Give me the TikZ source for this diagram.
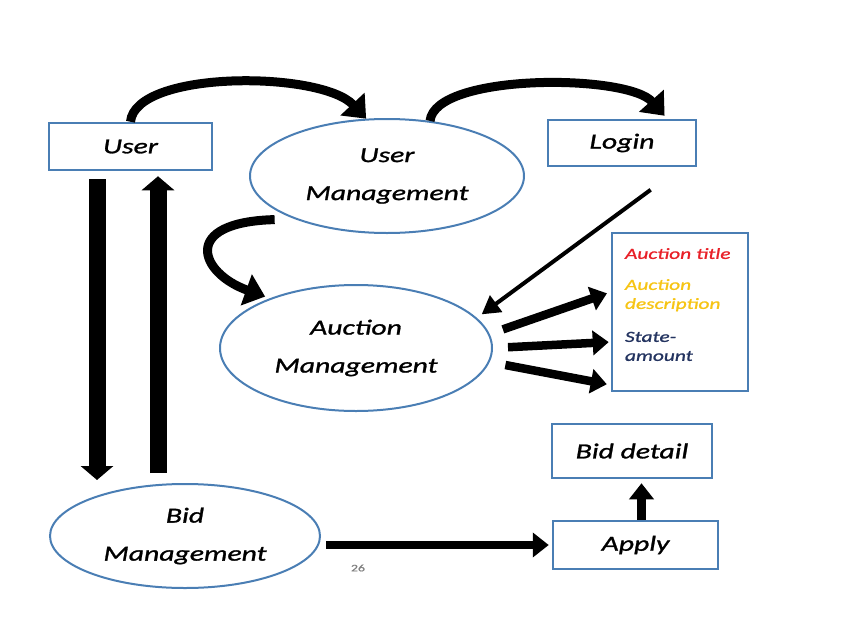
\documentclass[tikz,border=0pt]{standalone}
\usepackage{fontspec}
\setmainfont[FakeStretch=1.38 , FakeBold=1.2]{Carlito}
\usepackage{tikz}
\usetikzlibrary{shapes.geometric , arrows.meta}
\definecolor{boxblue}{RGB}{74,126,180}
\definecolor{titlered}{RGB}{232,32,40}
\definecolor{descyellow}{RGB}{246,196,20}
\definecolor{statenavy}{RGB}{36,52,96}

\begin{document}
\begin{tikzpicture}[x = 1pt , y = -1pt ,
    rect/.style = {draw = boxblue , line width = 2.5pt , inner sep = 0pt , font = \fontsize{21.5}{38}\selectfont\itshape},
    oval/.style = {ellipse , draw = boxblue , line width = 2pt , inner sep = 0pt , align = center , font = \fontsize{21.5}{38}\selectfont\itshape},
    fat/.style = {line width = 17pt , -{Triangle[width = 32pt , length = 14pt]}},
    bent/.style = {line width = 9pt , -{Triangle[width = 32pt , length = 20pt]}},
    mid/.style = {line width = 8.5pt , -{Triangle[width = 24pt , length = 16pt]}},
    slim/.style = {line width = 4pt , -{Triangle[width = 20pt , length = 18pt]}}]
    \useasboundingbox (0,0) rectangle (857,624);

    \node[rect , minimum width = 163pt , minimum height = 47pt] (user) at (130.5,146.5) {User};
    \node[oval , minimum width = 274pt , minimum height = 114pt] (um) at (387,176) {User\\Management};
    \node[rect , minimum width = 148pt , minimum height = 46pt] (login) at (622,143) {Login};
    \node[oval , minimum width = 272pt , minimum height = 126pt] (am) at (356,348) {Auction\\Management};
    \node[rect , minimum width = 136pt , minimum height = 158pt , align = left , text width = 110pt ,
          font = \fontsize{15.5}{19}\selectfont\itshape] (info) at (680,312)
          {\color{titlered}Auction title\\[12pt]\color{descyellow}Auction\\description\\[14pt]\color{statenavy}State-\\amount\\[-4pt]\mbox{}};
    \node[rect , minimum width = 160pt , minimum height = 54pt] (detail) at (632,451) {Bid detail};
    \node[rect , minimum width = 165pt , minimum height = 48pt] (apply) at (635.5,545) {Apply};
    \node[oval , minimum width = 270pt , minimum height = 104pt] (bm) at (185,536) {Bid\\Management};
    \node[text = gray , font = \fontsize{10}{12}\selectfont] (page) at (358,568) {26}; % page number

    % curved arrows on top
    \draw[bent] (user.north) .. controls +(5,-52) and +(-45,-48) .. (um.110);
    \draw[bent , shorten > = 4pt] (um.52) .. controls +(5,-48) and +(-40,-45) .. ([xshift = -30pt]login.north east);
    \draw[bent , shorten < = 20pt , shorten > = 5pt] (um.205) .. controls +(-115,3) and +(-70,-25) .. (am.150);

    % login to auction management
    \draw[slim , shorten < = 38pt , shorten > = 6pt] ([xshift = -16pt]login.south east) -- (am.14);

    % auction management to its fields
    \draw[mid , shorten < = 14pt , shorten > = 4pt] (am.6) -- ([yshift = 20pt]info.west);
    \draw[mid , shorten < = 15pt , shorten > = 2pt] (am.0) -- ([yshift = -30pt]info.west);
    \draw[mid , shorten < = 16pt , shorten > = 4pt] (am.-6) -- ([yshift = -73pt]info.west);

    % user and bid management
    \coordinate (down) at ([xshift = -33.5pt]user.south);
    \coordinate (up) at ([xshift = 27.5pt]user.south);
    \draw[fat , shorten < = 8pt , shorten > = 3pt] (down) -- (down |- bm.north);
    \draw[fat , shorten < = 10pt , shorten > = 5pt] (up |- bm.north) -- (up);

    % bid management to apply to bid detail
    \draw[mid , shorten < = 5pt , shorten > = 3pt] (bm.east |- apply.west) -- (apply.west);
    \coordinate (rise) at ([xshift = 6pt]apply.north);
    \draw[mid , shorten > = 4pt] (rise) -- (rise |- detail.south);
\end{tikzpicture}
\end{document}
